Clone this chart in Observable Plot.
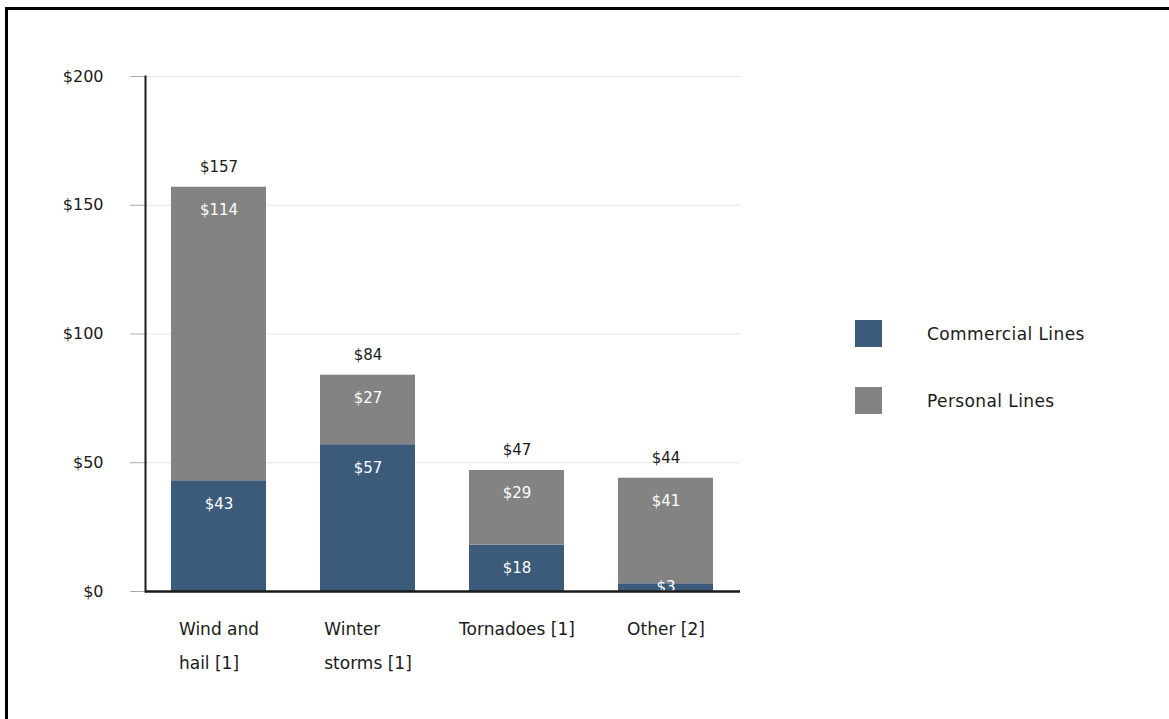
<!DOCTYPE html>
<html>
<head>
<meta charset="utf-8">
<script src="https://cdn.jsdelivr.net/npm/d3@7"></script>
<script src="https://cdn.jsdelivr.net/npm/@observablehq/plot@0.6"></script>
<style>
  html, body { margin: 0; padding: 0; background: #fff; }
  #wrap { position: relative; width: 1169px; height: 719px; overflow: hidden; font-family: "DejaVu Sans", sans-serif; color: #1a1a1a; }
  #border { position: absolute; left: 5px; top: 7px; right: -10px; bottom: -10px; border-top: 3px solid #000; border-left: 3px solid #000; }
  #chart { position: absolute; left: 0; top: 0; }
  .leg { position: absolute; left: 855px; display: flex; align-items: center; height: 27px; }
  .leg .sw { width: 27px; height: 27px; }
  .leg .lb { margin-left: 45px; font-size: 17px; letter-spacing: 0.4px; }
</style>
</head>
<body>
<div id="wrap">
  <div id="border"></div>
  <div id="chart"></div>
  <div id="legend"></div>
</div>
<script>
const categories = ["Wind and\nhail [1]", "Winter\nstorms [1]", "Tornadoes [1]", "Other [2]"];
const seriesNames = ["Commercial Lines", "Personal Lines"];
const commercial = [43, 57, 18, 3];
const personal = [114, 27, 29, 41];
const totals = [157, 84, 47, 44];
const yTicks = [0, 50, 100, 150, 200];
const seriesColors = ["#3c5a7a", "#838383"];

const W = 1169, H = 719;
const mL = 145, mR = 429, mT = 76, mB = 128;
const FONT = '"DejaVu Sans", sans-serif';
const pxPerUnit = (H - mT - mB) / 200;

// long-format table built from the arrays
const rows = [];
categories.forEach((c, i) => {
  rows.push({category: c, series: seriesNames[0], value: commercial[i], lo: 0, hi: commercial[i]});
  rows.push({category: c, series: seriesNames[1], value: personal[i], lo: commercial[i], hi: commercial[i] + personal[i]});
});
const totalRows = categories.map((c, i) => ({category: c, total: totals[i]}));

// measure widths for left-aligned, centered category label blocks
const ctx = document.createElement("canvas").getContext("2d");
ctx.font = `17px ${FONT}`;
const blockWidth = c => Math.max(...c.split("\n").map(l => ctx.measureText(l).width));

const labelMarks = categories.map(c => Plot.text([c], {
  x: d => d, y: () => 0, text: d => d,
  textAnchor: "start", lineAnchor: "top", dx: -blockWidth(c) / 2, dy: 19,
  lineHeight: 2.0, fontSize: 17, fill: "#1a1a1a"
}));

const chart = Plot.plot({
  width: W, height: H,
  marginLeft: mL, marginRight: mR, marginTop: mT, marginBottom: mB,
  style: {fontFamily: FONT, fontSize: "15px", background: "transparent", overflow: "visible"},
  x: {domain: categories, paddingInner: 0.36, paddingOuter: 0.17, axis: null},
  y: {domain: [0, 200], axis: null},
  color: {domain: seriesNames, range: seriesColors},
  marks: [
    Plot.gridY(yTicks, {stroke: "#e6e6e6", strokeOpacity: 1}),
    Plot.axisY(yTicks, {tickSize: 15, tickPadding: 27, tickFormat: d => "$" + d, stroke: "#aaa", fill: "#1a1a1a", fontSize: 16, label: null}),
    Plot.barY(rows, {x: "category", y1: "lo", y2: "hi", fill: "series"}),
    Plot.text(rows, {
      x: "category",
      y: d => Math.max((d.lo + d.hi) / 2, d.hi - 23 / pxPerUnit),
      text: d => "$" + d.value, fill: "white", fontSize: 15
    }),
    Plot.text(totalRows, {x: "category", y: "total", dy: -20, text: d => "$" + d.total, fill: "#1a1a1a", fontSize: 15}),
    Plot.frame({anchor: "left", stroke: "#1a1a1a", strokeWidth: 2}),
    Plot.ruleY([0], {stroke: "#1a1a1a", strokeWidth: 2.5}),
    ...labelMarks
  ]
});
document.getElementById("chart").appendChild(chart);

// legend (HTML, outside the plot frame)
const legend = document.getElementById("legend");
seriesNames.forEach((s, i) => {
  const item = document.createElement("div");
  item.className = "leg";
  item.style.top = (320 + i * 67) + "px";
  item.innerHTML = `<div class="sw" style="background:${seriesColors[i]}"></div><div class="lb">${s}</div>`;
  legend.appendChild(item);
});
</script>
</body>
</html>
